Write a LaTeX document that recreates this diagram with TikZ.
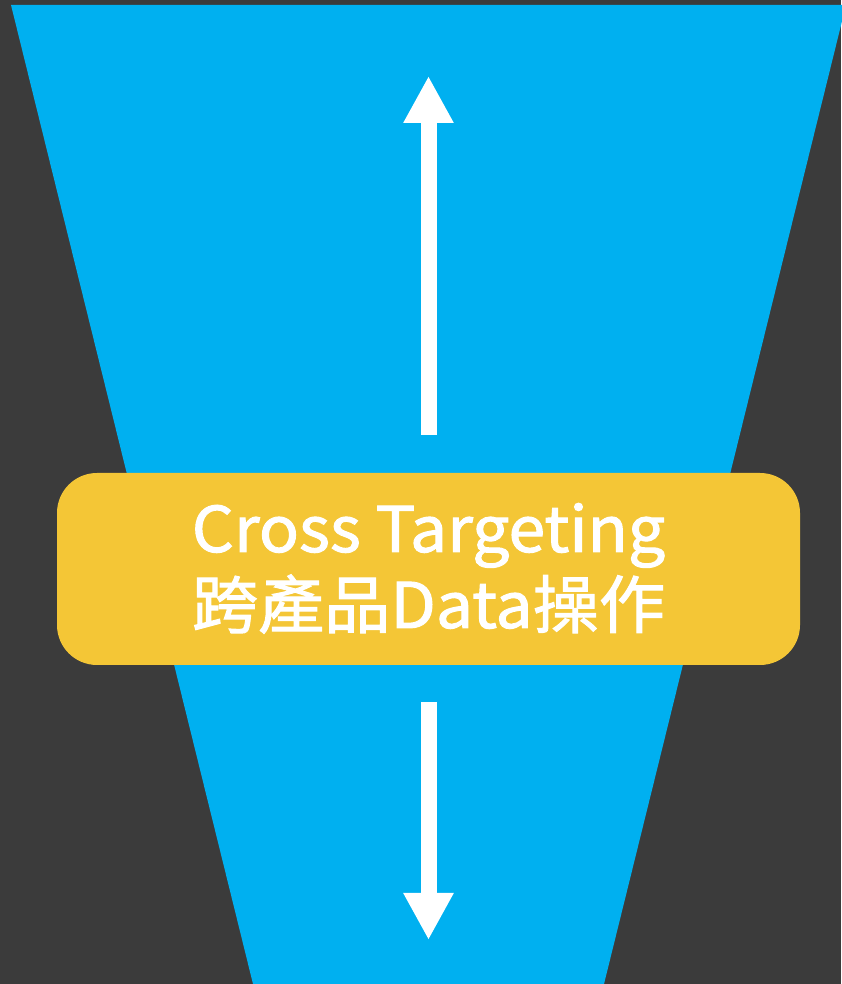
\documentclass[tikz,border=0pt]{standalone}
\usepackage{fontspec}
\setmainfont{Noto Sans CJK TC}[FakeBold=1.6,FakeStretch=1.05]
\usetikzlibrary{arrows.meta}
\begin{document}
\begin{tikzpicture}[x=1pt,y=1pt,
  bigarrow/.style={draw=white,line width=16pt,-{Triangle[width=47pt,length=47pt]}},
  boxlabel/.style={text=white,anchor=base,inner sep=0pt,outer sep=0pt,font=\fontsize{63}{63}\selectfont}]
\definecolor{fillColor}{RGB}{59,59,59}
\path[use as bounding box,fill=fillColor] (0,0) rectangle (841,984);
\definecolor{fillColor}{RGB}{0,176,240}

\path[fill=fillColor] ( 11,979) --
	(846,979) --
	(604,  0) --
	(253,  0) -- cycle;

\coordinate (uptail) at (428.5,549);
\coordinate (uptip) at (428.5,908);
\coordinate (downtail) at (428.5,282);
\coordinate (downtip) at (428.5, 44);

\draw[bigarrow] (uptail) -- (uptip);

\draw[bigarrow] (downtail) -- (downtip);
\definecolor{fillColor}{RGB}{244,198,54}

\node[fill=fillColor,rounded corners=40pt,minimum width=743pt,minimum height=192pt,inner sep=0pt] (xtarget) at (428.5,415) {};

\node[boxlabel] (line1) at (428.5,432) {Cross Targeting};

\node[boxlabel] (line2) at (428.5,356) {跨產品Data操作};
\end{tikzpicture}
\end{document}
